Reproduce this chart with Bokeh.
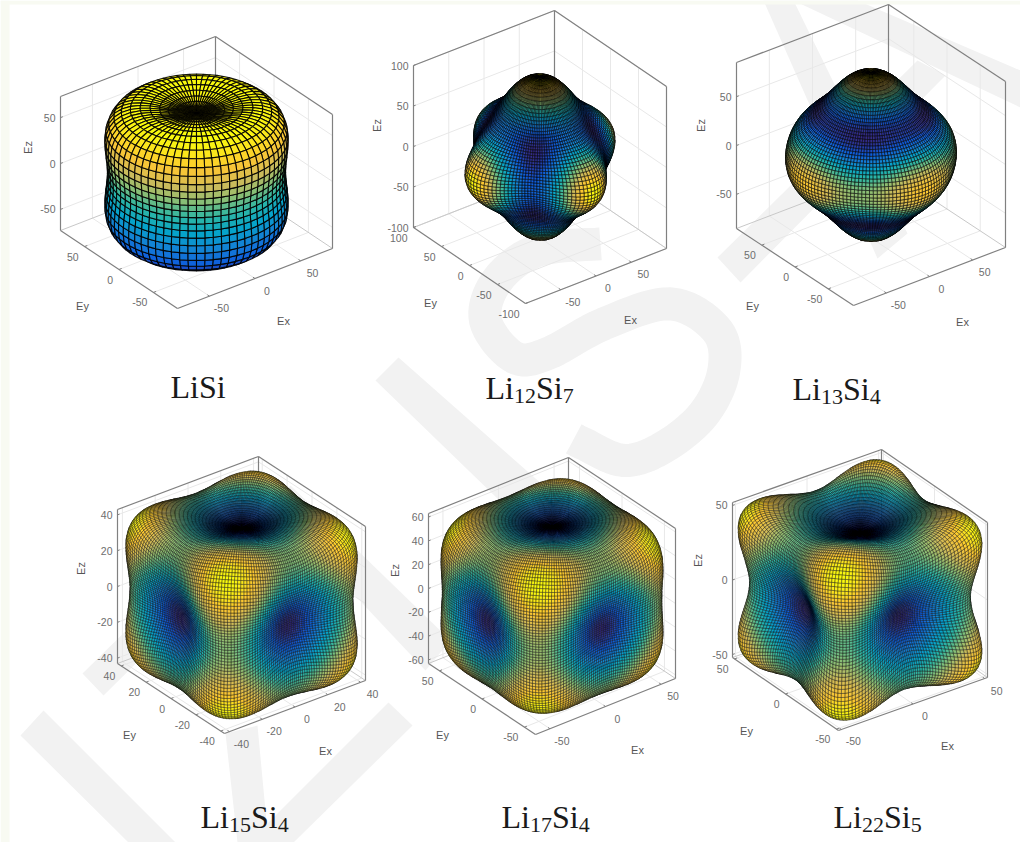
import numpy as np
from bokeh.plotting import figure
from bokeh.models import Range1d, ColumnDataSource
from bokeh.core.properties import value
from bokeh.embed import file_html
from bokeh.resources import INLINE

# ---------- values ----------
compounds = ["LiSi", "Li12Si7", "Li13Si4", "Li15Si4", "Li17Si4", "Li22Si5"]
title_parts = [[("Li", 0), ("Si", 0)],
               [("Li", 0), ("12", 1), ("Si", 0), ("7", 1)],
               [("Li", 0), ("13", 1), ("Si", 0), ("4", 1)],
               [("Li", 0), ("15", 1), ("Si", 0), ("4", 1)],
               [("Li", 0), ("17", 1), ("Si", 0), ("4", 1)],
               [("Li", 0), ("22", 1), ("Si", 0), ("5", 1)]]
E_100 = [78, 98, 82, 37, 58, 38]
E_001 = [64, 98, 84, 37, 58, 38]
E_101 = [93, 76, 68, 54.6, 79, 63.6]
E_110 = [78, 74, 78, 54.6, 79, 63.6]
# axis half-ranges
lim_xy = [85, 100, 88, 43, 63, 52]
lim_z = [73, 100, 85, 43, 63, 52]
xticks = [[-50, 0, 50], [-50, 0, 50], [-50, 0, 50], [-40, -20, 0, 20, 40], [-50, 0, 50], [-50, 0, 50]]
yticks = [[-50, 0, 50], [-100, -50, 0, 50, 100], [-50, 0, 50], [-40, -20, 0, 20, 40], [-50, 0, 50], [-50, 0, 50]]
zticks = [[-50, 0, 50], [-100, -50, 0, 50, 100], [-50, 0, 50], [-40, -20, 0, 20, 40],
          [-60, -40, -20, 0, 20, 40, 60], [-50, 0, 50]]
color_by_height = [True, False, False, False, False, False]

# ---------- layout and style ----------
corner_F = [(177, 308), (525, 303), (853, 305), (224, 733), (535, 734), (838, 730)]
corner_L = [(60, 230), (413, 227), (736, 228), (117, 663), (428, 663), (732, 657)]
corner_R = [(332, 248), (666, 248), (1005, 247), (365, 680), (675, 678), (987, 677)]
box_h = [134, 162, 166, 154, 150, 155]
mesh_lon = [68, 140, 140, 220, 220, 220]
mesh_lat = [36, 70, 70, 110, 110, 110]
mesh_lw = [1.1, 0.62, 0.62, 0.42, 0.42, 0.42]
ez_pos = [(27, 147), (376, 125), (700, 125), (80, 568), (394, 570), (697, 560)]
ey_pos = [(82, 305), (430, 302), (752, 305), (129, 734), (442, 734), (746, 730)]
ex_pos = [(283, 320), (630, 319), (962, 321), (325, 750), (637, 749), (947, 745)]
title_pos = [(170, 397), (485, 398), (792, 399), (200, 827), (501, 827), (833, 827)]

stops = np.array([0, .125, .25, .375, .5, .625, .75, .875, 1.0])
stop_rgb = np.array([(0x35, 0x2a, 0x87), (0x0f, 0x5c, 0xdd), (0x14, 0x81, 0xd6), (0x06, 0xa4, 0xca),
                     (0x2e, 0xb7, 0xa4), (0x87, 0xbf, 0x77), (0xd1, 0xbb, 0x59), (0xfe, 0xc8, 0x32),
                     (0xf9, 0xfb, 0x0e)], dtype=float)


def parula(t):
    r = np.interp(t, stops, stop_rgb[:, 0]).astype(int)
    g = np.interp(t, stops, stop_rgb[:, 1]).astype(int)
    b = np.interp(t, stops, stop_rgb[:, 2]).astype(int)
    return ["#%02x%02x%02x" % c for c in zip(r, g, b)]


p = figure(width=1020, height=842, x_range=Range1d(0, 1020), y_range=Range1d(842, 0),
           output_backend="svg", toolbar_location=None, min_border=0, outline_line_color=None,
           background_fill_color="white", border_fill_color="white")
p.axis.visible = False
p.grid.visible = False

# ---------- watermark ----------
WM = "#f2f2f2"
wm_polys = [
    [(20, 735), (43, 710), (175, 842), (128, 842)],
    [(388, 702), (412, 725), (293, 842), (262, 842), (263, 827)],
    [(225, 733), (257, 725), (268, 842), (237, 842)],
    [(82, 673), (103, 695), (280, 520), (258, 500)],
    [(375, 380), (398, 357), (560, 500), (530, 530)],
    [(270, 505), (290, 485), (450, 640), (425, 670)],
    [(763, 0), (793, 0), (907, 233), (877, 258)],
    [(717, 257), (740, 282), (945, 75), (917, 60)],
    [(793, 0), (857, 0), (1020, 70), (1020, 107)],
]
p.patches([[q[0] for q in w] for w in wm_polys], [[q[1] for q in w] for w in wm_polys],
          fill_color=WM, line_color=None)
s_ctrl = np.array([(690, 40), (500, 60), (380, 150), (345, 270), (430, 380), (530, 370), (700, 280), (900, 220),
                   (1040, 300), (1060, 420), (1000, 550), (880, 650), (760, 690), (640, 640), (610, 625)], dtype=float)
s_ctrl = s_ctrl / 3 + np.array([370, 230])
sx, sy = [], []
ext = np.vstack([s_ctrl[0], s_ctrl, s_ctrl[-1]])
for i in range(1, len(ext) - 2):
    a, b, c, d = ext[i - 1], ext[i], ext[i + 1], ext[i + 2]
    for t in np.linspace(0, 1, 10, endpoint=False):
        q = .5 * (2 * b + (c - a) * t + (2 * a - 5 * b + 4 * c - d) * t ** 2 + (3 * b - a - 3 * c + d) * t ** 3)
        sx.append(q[0]); sy.append(q[1])
sx.append(ext[-1][0]); sy.append(ext[-1][1])
p.line(sx, sy, line_color=WM, line_width=33, line_join="round", line_cap="butt")

# pale page edge
PALE = "#f8faf2"
p.quad(left=[0, 0], right=[1020, 9], top=[0, 0], bottom=[4, 842], fill_color=PALE, line_color=None)

grid_x, grid_y = [], []
ebox_x, ebox_y = [], []
lbox_x, lbox_y = [], []
tick_x, tick_y = [], []
lab_x, lab_y, lab_t, lab_a = [], [], [], []
face_x, face_y, face_c, face_lw = [], [], [], []

for k in range(6):
    F, L, R = [np.array(c[k], dtype=float) for c in (corner_F, corner_L, corner_R)]
    H = box_h[k]
    lx, lz = lim_xy[k], lim_z[k]
    ex, ey = (R - F) / 2, (L - F) / 2
    ez = np.array([0, -H / 2])
    c0 = (L + R) / 2 + ez

    def proj(X, Y, Z):
        return (c0[0] + X / lx * ex[0] + Y / lx * ey[0] + Z / lz * ez[0],
                c0[1] + X / lx * ex[1] + Y / lx * ey[1] + Z / lz * ez[1])

    def seg(store_x, store_y, a, b):
        pa, pb = proj(*a), proj(*b)
        store_x.append([pa[0], pb[0]]); store_y.append([pa[1], pb[1]])

    for t in xticks[k]:
        seg(grid_x, grid_y, (t, lx, -lz), (t, lx, lz))
        seg(grid_x, grid_y, (t, -lx, -lz), (t, lx, -lz))
        seg(tick_x, tick_y, (t, -lx, -lz), (t, -lx + .035 * lx, -lz))
        q = proj(t, -lx, -lz)
        lab_x.append(q[0] + 12); lab_y.append(q[1] + 12); lab_t.append(str(t)); lab_a.append("center")
    for t in yticks[k]:
        seg(grid_x, grid_y, (lx, t, -lz), (lx, t, lz))
        seg(grid_x, grid_y, (-lx, t, -lz), (lx, t, -lz))
        seg(tick_x, tick_y, (-lx, t, -lz), (-lx + .035 * lx, t, -lz))
        q = proj(-lx, t, -lz)
        lab_x.append(q[0] - 6); lab_y.append(q[1] + 10); lab_t.append(str(t)); lab_a.append("right")
    for t in zticks[k]:
        seg(grid_x, grid_y, (-lx, lx, t), (lx, lx, t))
        seg(grid_x, grid_y, (lx, -lx, t), (lx, lx, t))
        seg(tick_x, tick_y, (-lx, lx, t), (-lx * .97, lx, t))
        q = proj(-lx, lx, t)
        lab_x.append(q[0] - 5); lab_y.append(q[1]); lab_t.append(str(t)); lab_a.append("right")
    for e in [((-lx, lx, lz), (lx, lx, lz)), ((lx, lx, lz), (lx, -lx, lz)), ((-lx, lx, lz), (-lx, lx, -lz)),
              ((lx, -lx, lz), (lx, -lx, -lz)), ((lx, lx, lz), (lx, lx, -lz)),
              ((-lx, lx, -lz), (-lx, -lx, -lz)), ((-lx, -lx, -lz), (lx, -lx, -lz))]:
        seg(ebox_x, ebox_y, *e)
    for e in [((-lx, lx, -lz), (lx, lx, -lz)), ((lx, lx, -lz), (lx, -lx, -lz))]:
        seg(lbox_x, lbox_y, *e)

    sa = 1 / E_100[k]
    sc = 1 / E_001[k]
    kk = 4 / E_101[k] - sa - sc
    ee = 4 * (1 / E_110[k] - sa)
    nlon, nlat = mesh_lon[k], mesh_lat[k]
    th = np.linspace(0, np.pi, nlat + 1)
    ph = np.linspace(0, 2 * np.pi, nlon + 1)
    TH, PH = np.meshgrid(th, ph, indexing="ij")
    nx, ny, nz = np.sin(TH) * np.cos(PH), np.sin(TH) * np.sin(PH), np.cos(TH)
    tt = nx ** 2 + ny ** 2
    r = 1 / (sa * tt ** 2 + sc * nz ** 4 + kk * tt * nz ** 2 + ee * nx ** 2 * ny ** 2)
    X, Y, Z = r * nx, r * ny, r * nz
    fld = Z if color_by_height[k] else r
    fmin, fmax = fld.min(), fld.max()
    row1 = np.array([ex[0] / lx, ey[0] / lx, 0.0])
    row2 = np.array([ex[1] / lx, ey[1] / lx, ez[1] / lz])
    v = np.cross(row1, row2)
    v = v / np.linalg.norm(v)
    if v @ np.array([-1, -1, 1]) < 0:
        v = -v

    def quad(A):
        return np.stack([A[:-1, :-1], A[:-1, 1:], A[1:, 1:], A[1:, :-1]], axis=-1)

    QX, QY, QZ = quad(X), quad(Y), quad(Z)
    CX, CY, CZ = QX.mean(-1), QY.mean(-1), QZ.mean(-1)
    d1 = np.stack([QX[..., 2] - QX[..., 0], QY[..., 2] - QY[..., 0], QZ[..., 2] - QZ[..., 0]], -1)
    d2 = np.stack([QX[..., 3] - QX[..., 1], QY[..., 3] - QY[..., 1], QZ[..., 3] - QZ[..., 1]], -1)
    nrm = np.cross(d1, d2)
    sgn = np.sign(nrm[..., 0] * CX + nrm[..., 1] * CY + nrm[..., 2] * CZ)
    facing = (nrm[..., 0] * v[0] + nrm[..., 1] * v[1] + nrm[..., 2] * v[2]) * sgn
    depth = CX * v[0] + CY * v[1] + CZ * v[2]
    idx = np.argwhere(facing > 0)
    order = np.argsort(depth[idx[:, 0], idx[:, 1]])
    idx = idx[order]
    val = quad(fld).mean(-1)
    cols = parula((val[idx[:, 0], idx[:, 1]] - fmin) / (fmax - fmin))
    PX, PY = proj(QX, QY, QZ)
    PX, PY = np.round(PX, 1), np.round(PY, 1)
    for (i, j), col in zip(idx, cols):
        face_x.append(PX[i, j].tolist()); face_y.append(PY[i, j].tolist())
        face_c.append(col); face_lw.append(mesh_lw[k])

p.multi_line(grid_x, grid_y, line_color="#e8e8e8", line_width=1)
p.multi_line(lbox_x, lbox_y, line_color="#c8c8c8", line_width=1)
p.multi_line(ebox_x, ebox_y, line_color="#808080", line_width=1.2)
p.multi_line(tick_x, tick_y, line_color="#808080", line_width=1)

src = ColumnDataSource(dict(xs=face_x, ys=face_y, c=face_c, lw=face_lw))
p.patches("xs", "ys", source=src, fill_color="c", line_color="#000000", line_width="lw", line_alpha=0.9)

TICK = "#6e6e6e"
SANS = value("Liberation Sans")
for a in ("center", "right"):
    ids = [i for i in range(len(lab_t)) if lab_a[i] == a]
    p.text([lab_x[i] for i in ids], [lab_y[i] for i in ids], text=[lab_t[i] for i in ids],
           text_font=SANS, text_font_size="10.5px", text_color=TICK, text_align=a, text_baseline="middle")
p.text([q[0] for q in ey_pos], [q[1] for q in ey_pos], text=["Ey"] * 6, text_font=SANS, text_font_size="11px",
       text_color="#555555", text_align="center", text_baseline="middle")
p.text([q[0] for q in ex_pos], [q[1] for q in ex_pos], text=["Ex"] * 6, text_font=SANS, text_font_size="11px",
       text_color="#555555", text_align="center", text_baseline="middle")
p.text([q[0] for q in ez_pos], [q[1] for q in ez_pos], text=["Ez"] * 6, text_font=SANS, text_font_size="11px",
       text_color="#555555", text_align="center", text_baseline="middle", angle=np.pi / 2)

SERIF = value("Liberation Serif")
char_w = {"L": .611, "i": .278, "S": .556}
for parts, (tx, ty) in zip(title_parts, title_pos):
    x = tx
    for s, sub in parts:
        size = 22 if sub else 32
        p.text([x], [ty + (5 if sub else 0) - size * .33], text=[s], text_font=SERIF, text_font_size=f"{size}px",
               text_color="#1a1a1a", text_align="left", text_baseline="middle")
        x += sum(char_w.get(ch, .5) for ch in s) * size

open("out.html", "w").write(file_html(p, INLINE))
